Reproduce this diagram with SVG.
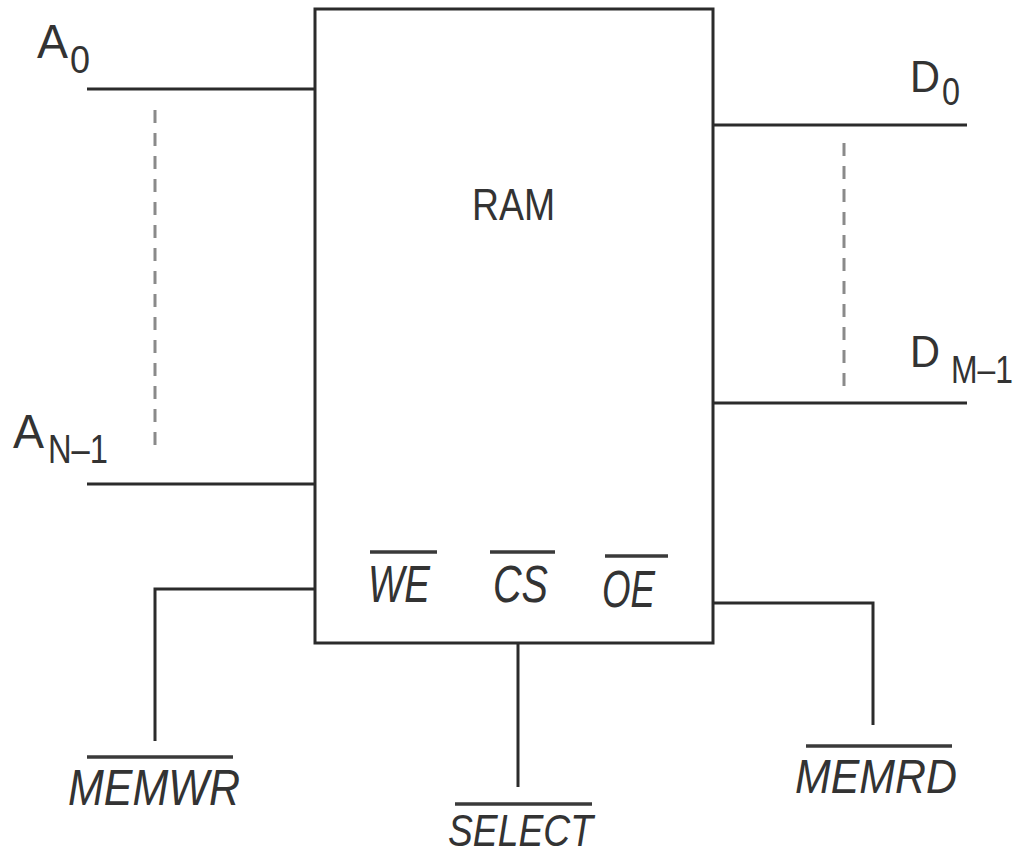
<svg xmlns="http://www.w3.org/2000/svg" width="1023" height="856" viewBox="0 0 1023 856">
<style>
.ln{stroke:#2b2b2b;stroke-width:3;fill:none;stroke-linecap:butt}
.ol{stroke:#3a3a3a;stroke-width:3.5;fill:none}
.dash{stroke:#8a8a8a;stroke-width:3;stroke-dasharray:13 10;fill:none}
.t{font-family:"Liberation Sans",Arial,sans-serif;fill:#333}
.it{font-family:"Liberation Sans",Arial,sans-serif;font-style:italic;fill:#333}
</style>
<rect width="1023" height="856" fill="#fff"/>
<g id="ram">
<rect x="315" y="9" width="398" height="634" class="ln"/>
<text class="t" x="472" y="220" font-size="44" textLength="83" lengthAdjust="spacingAndGlyphs">RAM</text>
<text class="it" x="368" y="602" font-size="51" textLength="62" lengthAdjust="spacingAndGlyphs">WE</text>
<line class="ol" x1="370" y1="552" x2="437" y2="552"/>
<text class="it" x="493" y="602" font-size="51" textLength="55" lengthAdjust="spacingAndGlyphs">CS</text>
<line class="ol" x1="490" y1="552" x2="555" y2="552"/>
<text class="it" x="602" y="607" font-size="51" textLength="53" lengthAdjust="spacingAndGlyphs">OE</text>
<line class="ol" x1="605" y1="556" x2="668" y2="556"/>
</g>
<g id="addr-labels">
<text class="t" x="37" y="58" font-size="48" textLength="31" lengthAdjust="spacingAndGlyphs">A</text>
<text class="t" x="70" y="73" font-size="38" textLength="20" lengthAdjust="spacingAndGlyphs">0</text>
<text class="t" x="13" y="448" font-size="48" textLength="31" lengthAdjust="spacingAndGlyphs">A</text>
<text class="t" x="48" y="463" font-size="40" textLength="60" lengthAdjust="spacingAndGlyphs">N–1</text>
</g>
<g id="data-labels">
<text class="t" x="910" y="92" font-size="45" textLength="30" lengthAdjust="spacingAndGlyphs">D</text>
<text class="t" x="942" y="105" font-size="38" textLength="18" lengthAdjust="spacingAndGlyphs">0</text>
<text class="t" x="910" y="367" font-size="45" textLength="30" lengthAdjust="spacingAndGlyphs">D</text>
<text class="t" x="951" y="383" font-size="38" textLength="62" lengthAdjust="spacingAndGlyphs">M–1</text>
</g>
<g id="memwr">
<text class="it" x="68" y="805" font-size="50" textLength="172" lengthAdjust="spacingAndGlyphs">MEMWR</text>
<line class="ol" x1="87" y1="757" x2="233" y2="757"/>
</g>
<g id="select">
<text class="it" x="448" y="846" font-size="44" textLength="145" lengthAdjust="spacingAndGlyphs">SELECT</text>
<line class="ol" x1="455" y1="804" x2="592" y2="804"/>
</g>
<g id="memrd">
<text class="it" x="795" y="793" font-size="49" textLength="162" lengthAdjust="spacingAndGlyphs">MEMRD</text>
<line class="ol" x1="806" y1="746" x2="952" y2="746"/>
</g>
<g id="connectors">
<line class="ln" x1="87" y1="89" x2="315" y2="89"/>
<line class="ln" x1="87" y1="484" x2="315" y2="484"/>
<line class="dash" x1="155" y1="110" x2="155" y2="448"/>
<line class="ln" x1="713" y1="125" x2="967" y2="125"/>
<line class="ln" x1="713" y1="403" x2="967" y2="403"/>
<line class="dash" x1="844" y1="143" x2="844" y2="387"/>
<polyline class="ln" points="315,589 155,589 155,741"/>
<line class="ln" x1="518" y1="643" x2="518" y2="787"/>
<polyline class="ln" points="713,603 873,603 873,725"/>
</g>
</svg>
